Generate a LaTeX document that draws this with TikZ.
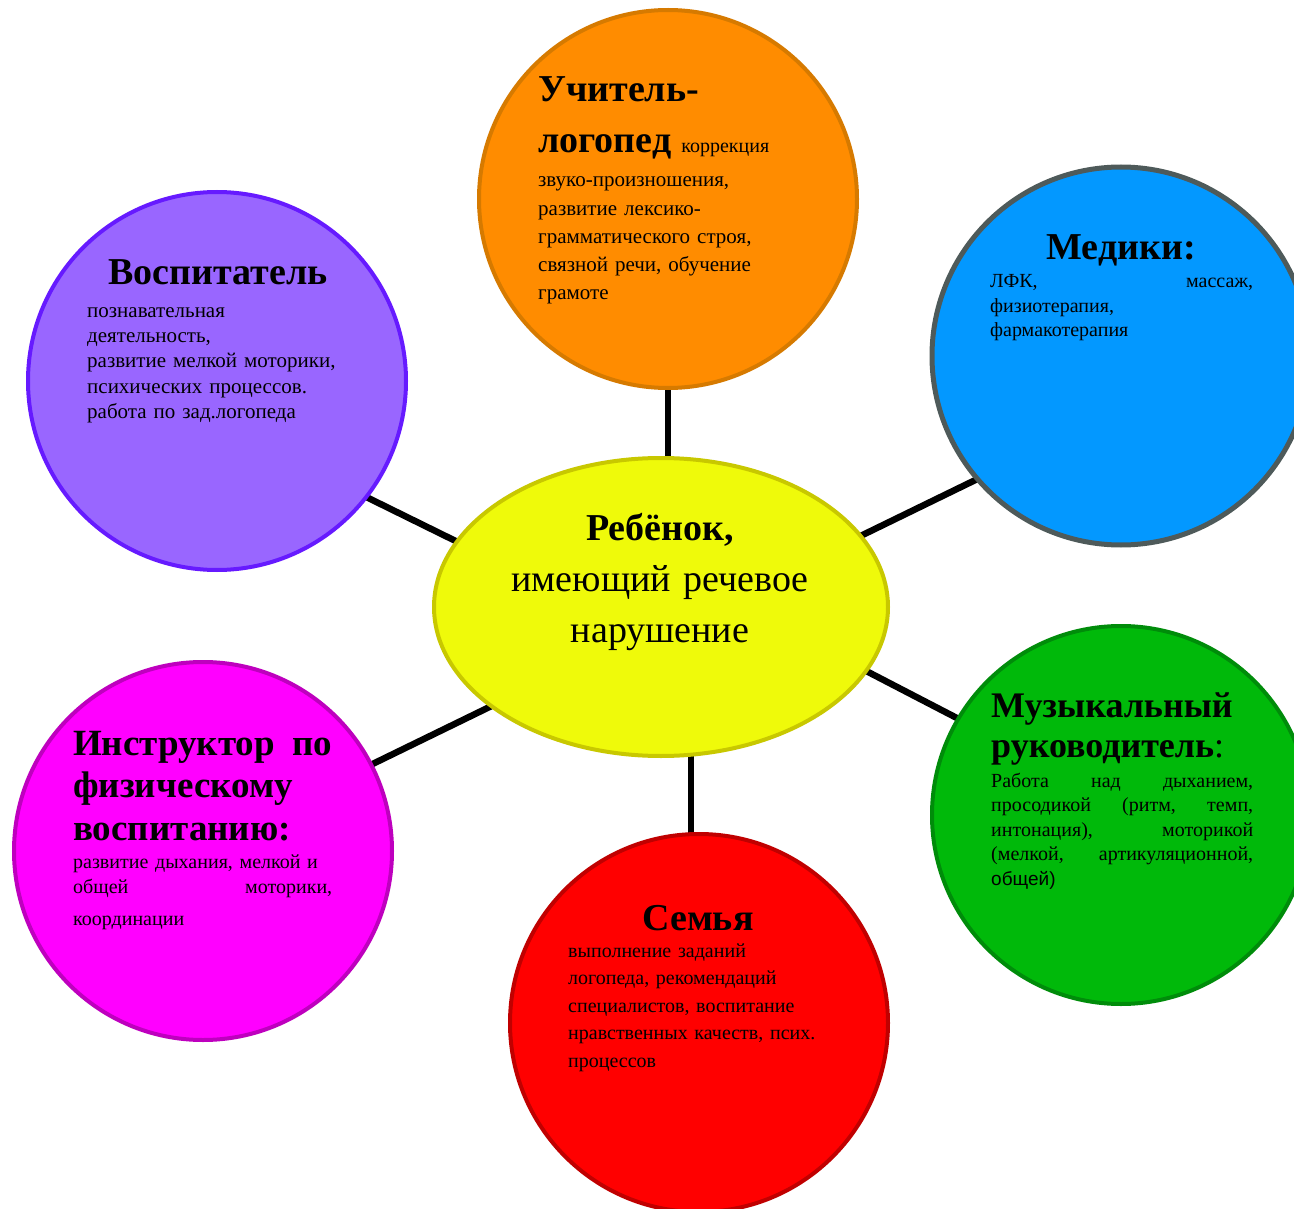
\documentclass[tikz,border=0pt]{standalone}
\usepackage{fontspec}
\setmainfont{Liberation Serif}
\newfontfamily\arialf{Liberation Sans}
\usetikzlibrary{shapes.geometric,backgrounds}
\definecolor{orfill}{RGB}{255,140,0}
\definecolor{ordraw}{RGB}{214,122,0}
\definecolor{blfill}{RGB}{3,152,255}
\definecolor{bldraw}{RGB}{78,90,90}
\definecolor{pufill}{RGB}{153,102,255}
\definecolor{pudraw}{RGB}{102,26,255}
\definecolor{grfill}{RGB}{0,185,10}
\definecolor{grdraw}{RGB}{0,140,10}
\definecolor{mgfill}{RGB}{255,0,255}
\definecolor{mgdraw}{RGB}{190,0,190}
\definecolor{rdfill}{RGB}{255,0,0}
\definecolor{rddraw}{RGB}{192,0,0}
\definecolor{yefill}{RGB}{239,250,10}
\definecolor{yedraw}{RGB}{200,200,0}
\newcommand{\hdsize}{\fontsize{38}{42}\selectfont\bfseries}
\newcommand{\bdsize}{\fontsize{21}{25.5}\selectfont}
\begin{document}
\begin{tikzpicture}[x=1pt,y=-1pt,
  roundbox/.style={circle,minimum size=378pt,inner sep=0pt,line width=4pt},
  conn/.style={line width=6.5pt,black},
  hd/.style={inner sep=0pt,font=\hdsize},
  bd/.style={inner sep=0pt,align=left,anchor=base west,text width=300pt}]
\useasboundingbox (0,0) rectangle (1294,1209);
\clip (0,0) rectangle (1294,1209);
% nodes
\node[roundbox,fill=orfill,draw=ordraw] (ort) at (668,199) {};
\node[roundbox,fill=blfill,draw=bldraw,line width=5pt] (med) at (1121,356) {};
\node[roundbox,fill=pufill,draw=pudraw] (vos) at (217,381) {};
\node[roundbox,fill=grfill,draw=grdraw] (mus) at (1121,815) {};
\node[roundbox,fill=mgfill,draw=mgdraw] (fiz) at (203,851) {};
\node[roundbox,fill=rdfill,draw=rddraw] (sem) at (699,1023) {};
\node[ellipse,minimum width=454pt,minimum height=298pt,inner sep=0pt,line width=4pt,fill=yefill,draw=yedraw] (ch) at (661,607) {};
% connectors (behind)
\begin{scope}[on background layer]
\coordinate (cx1) at (668,0);
\coordinate (cx2) at (691,0);
\draw[conn] (ort.center -| cx1) -- (ch.center -| cx1);
\draw[conn] (sem.center -| cx2) -- (ch.center -| cx2);
\coordinate (a1) at (348,488);
\coordinate (a2) at (480,553);
\draw[conn] (a1) -- (a2);
\coordinate (b1) at (840,546);
\coordinate (b2) at (1000,468);
\draw[conn] (b1) -- (b2);
\coordinate (c1) at (845,660);
\coordinate (c2) at (980,730);
\draw[conn] (c1) -- (c2);
\coordinate (d1) at (510,697);
\coordinate (d2) at (350,775);
\draw[conn] (d1) -- (d2);
\end{scope}
% texts: Учитель-логопед
\node[hd,anchor=base west] (t1a) at (538,102) {Учитель-};
\node[inner sep=0pt,anchor=base west] (t1b) at (538,153) {{\hdsize логопед}\hspace{10pt}{\fontsize{20}{24}\selectfont коррекция}};
\node[bd,font=\fontsize{21}{28.2}\selectfont] (t1c) at (538,187) {звуко-произношения,\\развитие лексико-\\грамматического строя,\\связной речи, обучение\\грамоте};
% Медики
\node[hd,anchor=base] (t2a) at (1121,260) {Медики:};
\node[bd,text width=263pt,font=\fontsize{20}{24.5}\selectfont] (t2b) at (990,288) {ЛФК,\hfill массаж,\\физиотерапия,\\фармакотерапия};
% Воспитатель
\node[hd,anchor=base] (t3a) at (218,285) {Воспитатель};
\node[bd,font=\bdsize] (t3b) at (87,317) {познавательная\\деятельность,\\развитие мелкой моторики,\\психических процессов.\\работа по зад.логопеда};
% Музыкальный руководитель
\node[bd,font=\fontsize{36}{40}\selectfont] (t4a) at (991,717) {\textbf{Музыкальный}\\\textbf{руководитель}:};
\node[bd,text width=262pt,font=\fontsize{20}{24.5}\selectfont] (t4b) at (991,787) {Работа\hfill над\hfill дыханием,\\просодикой\hfill (ритм,\hfill темп,\\интонация),\hfill моторикой\\(мелкой,\hfill артикуляционной,\\{\arialf\fontsize{19}{24.5}\selectfont общей)}};
% Инструктор
\node[bd,text width=259pt,font=\fontsize{37}{42.5}\selectfont\bfseries] (t5a) at (73,755) {Инструктор\hfill по\\физическому\\воспитанию:};
\node[bd,text width=259pt,font=\fontsize{20}{25}\selectfont] (t5b) at (73,868) {развитие дыхания, мелкой и\\общей\hfill моторики,\\[7pt]координации};
% Семья
\node[hd,anchor=base] (t6a) at (698,930) {Семья};
\node[bd,font=\fontsize{20}{27.5}\selectfont] (t6b) at (568,957) {выполнение заданий\\логопеда, рекомендаций\\специалистов, воспитание\\нравственных качеств, псих.\\процессов};
% Ребёнок
\node[inner sep=0pt,anchor=base,text width=420pt,font=\fontsize{38}{51}\selectfont,align=center] (t7) at (660,540) {\textbf{Ребёнок,}\\имеющий речевое\\нарушение};
\end{tikzpicture}
\end{document}
